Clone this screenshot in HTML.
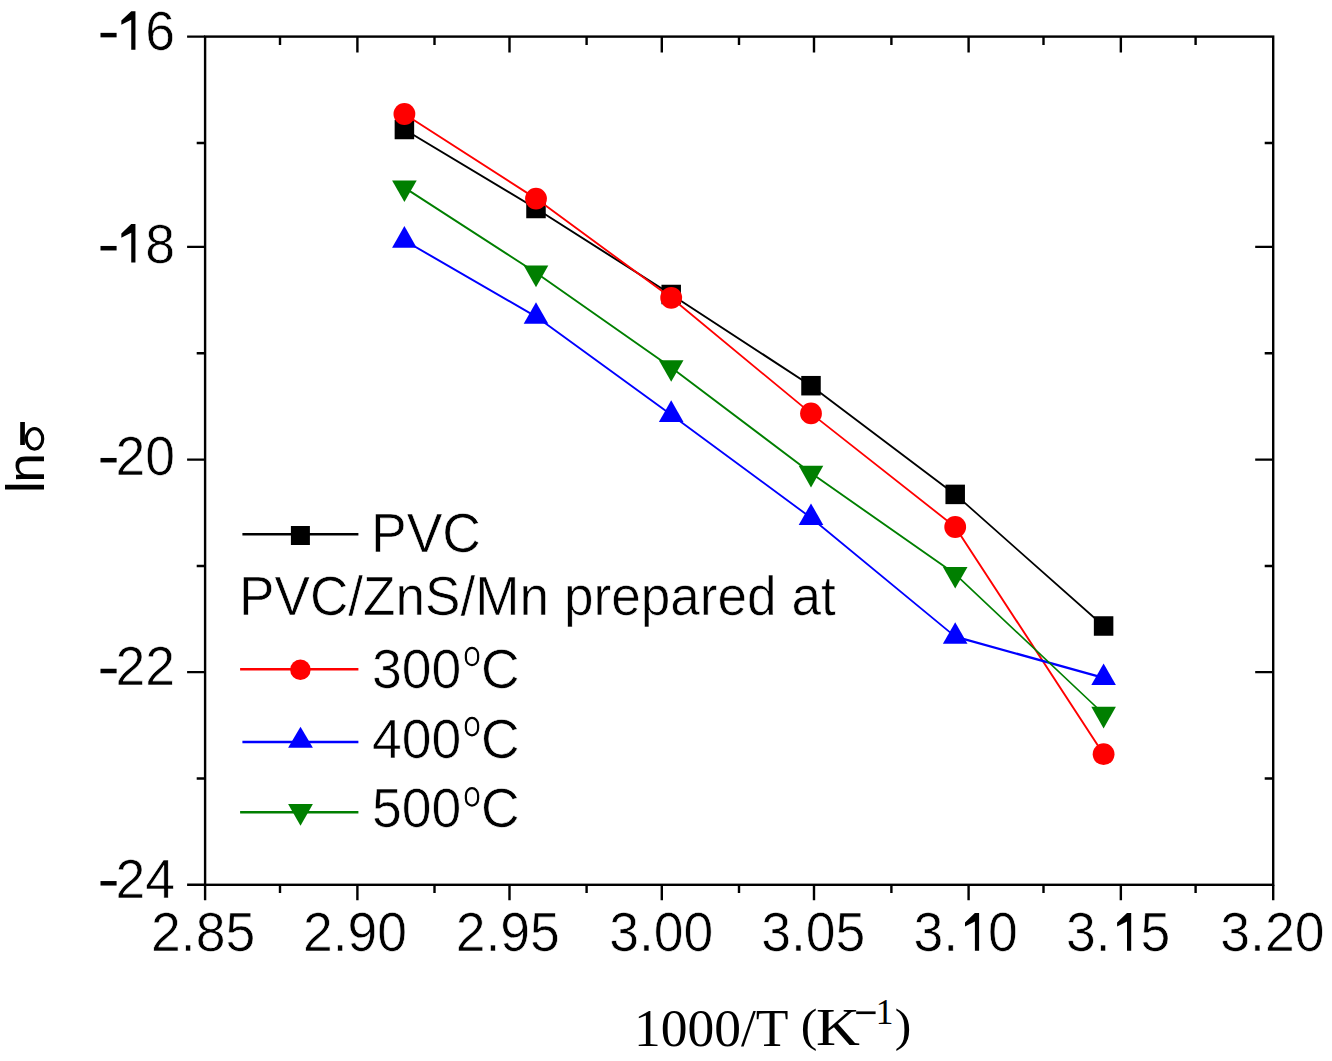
<!DOCTYPE html>
<html><head><meta charset="utf-8"><style>
html,body{margin:0;padding:0;background:#fff;width:1332px;height:1061px;overflow:hidden}
svg{display:block}

</style></head><body><svg width="1332" height="1061" viewBox="0 0 1332 1061"><rect x="205.1" y="36.6" width="1068.1000000000001" height="848.1999999999999" fill="none" stroke="#000" stroke-width="2.4"/><path d="M205.10 884.8V900.3M357.40 884.8V900.3M357.40 36.6V52.6M509.50 884.8V900.3M509.50 36.6V52.6M661.80 884.8V900.3M661.80 36.6V52.6M814.00 884.8V900.3M814.00 36.6V52.6M968.60 884.8V900.3M968.60 36.6V52.6M1120.85 884.8V900.3M1120.85 36.6V52.6M1273.20 884.8V900.3M280.00 884.8V893.0M280.00 36.6V45.1M434.50 884.8V893.0M434.50 36.6V45.1M586.60 884.8V893.0M586.60 36.6V45.1M739.00 884.8V893.0M739.00 36.6V45.1M891.40 884.8V893.0M891.40 36.6V45.1M1043.50 884.8V893.0M1043.50 36.6V45.1M1195.60 884.8V893.0M1195.60 36.6V45.1M187.1 884.80H205.1M187.1 672.10H205.1M1273.2 672.10H1255.2M187.1 459.60H205.1M1273.2 459.60H1255.2M187.1 246.90H205.1M1273.2 246.90H1255.2M187.1 36.60H205.1M196.7 142.96H205.1M1273.2 142.96H1264.7M196.7 353.20H205.1M1273.2 353.20H1264.7M196.7 566.00H205.1M1273.2 566.00H1264.7M196.7 778.50H205.1M1273.2 778.50H1264.7" stroke="#000" stroke-width="2.4" fill="none"/><g font-family="Liberation Sans, sans-serif" font-size="53.5" fill="#000"><text transform="translate(203.15 951.00) scale(1 1.04)" text-anchor="middle" stroke="#fff" stroke-width="0.6">2.85</text><text transform="translate(354.95 951.00) scale(1 1.04)" text-anchor="middle" stroke="#fff" stroke-width="0.6">2.90</text><text transform="translate(507.80 951.00) scale(1 1.04)" text-anchor="middle" stroke="#fff" stroke-width="0.6">2.95</text><text transform="translate(661.20 951.00) scale(1 1.04)" text-anchor="middle" stroke="#fff" stroke-width="0.6">3.00</text><text transform="translate(813.20 951.00) scale(1 1.04)" text-anchor="middle" stroke="#fff" stroke-width="0.6">3.05</text><text transform="translate(965.65 951.00) scale(1 1.04)" text-anchor="middle" stroke="#fff" stroke-width="0.6">3.<tspan visibility="hidden">1</tspan>0</text><text transform="translate(1118.10 951.00) scale(1 1.04)" text-anchor="middle" stroke="#fff" stroke-width="0.6">3.<tspan visibility="hidden">1</tspan>5</text><text transform="translate(1272.40 951.00) scale(1 1.04)" text-anchor="middle" stroke="#fff" stroke-width="0.6">3.20</text><path d="M974.90 913.00H979.10V950.80H974.90V921.60L965.00 926.60V922.40Z"/><path d="M1127.00 913.00H1131.20V950.80H1127.00V921.60L1117.10 926.60V922.40Z"/><path d="M131.25 11.20H135.45V49.80H131.25V19.80L121.35 24.80V20.60Z"/><path d="M131.25 224.10H135.45V262.50H131.25V232.70L121.35 237.70V233.50Z"/><text transform="translate(175.00 897.70) scale(1 1.04)" text-anchor="end" stroke="#fff" stroke-width="0.6"><tspan visibility="hidden">-</tspan>24</text><rect x="100.5" y="881.05" width="16.1" height="4.5"/><text transform="translate(175.00 685.40) scale(1 1.04)" text-anchor="end" stroke="#fff" stroke-width="0.6"><tspan visibility="hidden">-</tspan>22</text><rect x="100.5" y="668.75" width="16.1" height="4.5"/><text transform="translate(175.00 474.60) scale(1 1.04)" text-anchor="end" stroke="#fff" stroke-width="0.6"><tspan visibility="hidden">-</tspan>20</text><rect x="100.5" y="457.95" width="16.1" height="4.5"/><text transform="translate(175.00 262.60) scale(1 1.04)" text-anchor="end" stroke="#fff" stroke-width="0.6"><tspan visibility="hidden">-</tspan><tspan visibility="hidden">1</tspan>8</text><rect x="100.5" y="245.95" width="16.1" height="4.5"/><text transform="translate(175.00 49.50) scale(1 1.04)" text-anchor="end" stroke="#fff" stroke-width="0.6"><tspan visibility="hidden">-</tspan><tspan visibility="hidden">1</tspan>6</text><rect x="100.5" y="32.85" width="16.1" height="4.5"/></g><g stroke="#000" fill="none" stroke-linecap="round"><path d="M404.40 129.50L536.00 208.50" stroke-width="1.97"/><path d="M536.00 208.50L671.20 294.50" stroke-width="1.94"/><path d="M671.20 294.50L811.00 385.70" stroke-width="1.93"/><path d="M811.00 385.70L955.20 494.40" stroke-width="1.84"/><path d="M955.20 494.40L1103.60 626.00" stroke-width="1.72"/></g><rect x="394.65" y="119.75" width="19.5" height="19.5" fill="#000"/><rect x="526.25" y="198.75" width="19.5" height="19.5" fill="#000"/><rect x="661.45" y="284.75" width="19.5" height="19.5" fill="#000"/><rect x="801.25" y="375.95" width="19.5" height="19.5" fill="#000"/><rect x="945.45" y="484.65" width="19.5" height="19.5" fill="#000"/><rect x="1093.85" y="616.25" width="19.5" height="19.5" fill="#000"/><g stroke="#f00" fill="none" stroke-linecap="round"><path d="M404.40 114.00L536.00 198.60" stroke-width="1.93"/><path d="M536.00 198.60L671.20 297.80" stroke-width="1.85"/><path d="M671.20 297.80L811.00 413.40" stroke-width="1.77"/><path d="M811.00 413.40L955.20 527.00" stroke-width="1.81"/><path d="M955.20 527.00L1103.60 754.20" stroke-width="1.93"/></g><circle cx="404.40" cy="114.00" r="10.9" fill="#f00"/><circle cx="536.00" cy="198.60" r="10.9" fill="#f00"/><circle cx="671.20" cy="297.80" r="10.9" fill="#f00"/><circle cx="811.00" cy="413.40" r="10.9" fill="#f00"/><circle cx="955.20" cy="527.00" r="10.9" fill="#f00"/><circle cx="1103.60" cy="754.20" r="10.9" fill="#f00"/><g stroke="#00f" fill="none" stroke-linecap="round"><path d="M404.40 240.50L536.00 316.60" stroke-width="1.99"/><path d="M536.00 316.60L671.20 414.70" stroke-width="1.86"/><path d="M671.20 414.70L811.00 517.80" stroke-width="1.85"/><path d="M811.00 517.80L955.20 636.60" stroke-width="1.78"/><path d="M955.20 636.60L1103.60 677.90" stroke-width="2.22"/></g><polygon points="404.40,226.10 416.70,247.70 392.10,247.70" fill="#00f"/><polygon points="536.00,302.20 548.30,323.80 523.70,323.80" fill="#00f"/><polygon points="671.20,400.30 683.50,421.90 658.90,421.90" fill="#00f"/><polygon points="811.00,503.40 823.30,525.00 798.70,525.00" fill="#00f"/><polygon points="955.20,622.20 967.50,643.80 942.90,643.80" fill="#00f"/><polygon points="1103.60,663.50 1115.90,685.10 1091.30,685.10" fill="#00f"/><g stroke="#007f00" fill="none" stroke-linecap="round"><path d="M404.40 187.60L536.00 272.80" stroke-width="1.93"/><path d="M536.00 272.80L671.20 367.40" stroke-width="1.88"/><path d="M671.20 367.40L811.00 473.00" stroke-width="1.84"/><path d="M811.00 473.00L955.20 574.10" stroke-width="1.88"/><path d="M955.20 574.10L1103.60 714.00" stroke-width="1.67"/></g><polygon points="392.10,180.40 416.70,180.40 404.40,202.00" fill="#007f00"/><polygon points="523.70,265.60 548.30,265.60 536.00,287.20" fill="#007f00"/><polygon points="658.90,360.20 683.50,360.20 671.20,381.80" fill="#007f00"/><polygon points="798.70,465.80 823.30,465.80 811.00,487.40" fill="#007f00"/><polygon points="942.90,566.90 967.50,566.90 955.20,588.50" fill="#007f00"/><polygon points="1091.30,706.80 1115.90,706.80 1103.60,728.40" fill="#007f00"/><path d="M242.4 534.2H358.4" stroke="#000" stroke-width="2.4"/><rect x="290.90" y="526.00" width="19" height="19" fill="#000"/><path d="M240.1 669.3H358.4" stroke="#f00" stroke-width="2.4"/><circle cx="300.40" cy="669.80" r="10.25" fill="#f00"/><path d="M242.4 742H358.4" stroke="#00f" stroke-width="2.4"/><polygon points="300.50,726.70 312.90,747.70 288.10,747.70" fill="#00f"/><path d="M240.1 812.3H358.4" stroke="#007f00" stroke-width="2.4"/><polygon points="288.10,804.03 312.90,804.03 300.50,825.83" fill="#007f00"/><g font-family="Liberation Sans, sans-serif" font-size="53.5" fill="#000"><text transform="translate(371.00 552.30) scale(1 1.04)" stroke="#fff" stroke-width="0.6">PVC</text><text transform="translate(239.00 615.30) scale(0.9935 1.04)" stroke="#fff" stroke-width="0.6">PVC/ZnS/Mn prepared at</text><text transform="translate(372.00 687.70) scale(1 1.04)" stroke="#fff" stroke-width="0.6">300<tspan font-size="30" dx="1.5" dy="-22.6" visibility="hidden">o</tspan><tspan dx="1.5" dy="22.6">C</tspan></text><text transform="translate(372.00 757.60) scale(1 1.04)" stroke="#fff" stroke-width="0.6">400<tspan font-size="30" dx="1.5" dy="-22.6" visibility="hidden">o</tspan><tspan dx="1.5" dy="22.6">C</tspan></text><text transform="translate(372.00 827.00) scale(1 1.04)" stroke="#fff" stroke-width="0.6">500<tspan font-size="30" dx="1.5" dy="-22.6" visibility="hidden">o</tspan><tspan dx="1.5" dy="22.6">C</tspan></text></g><rect x="465.9" y="647.8" width="12.2" height="17.4" rx="6.1" ry="7" fill="none" stroke="#000" stroke-width="2.2"/><rect x="465.9" y="717.9" width="12.2" height="17.4" rx="6.1" ry="7" fill="none" stroke="#000" stroke-width="2.2"/><rect x="465.9" y="788.2" width="12.2" height="17.4" rx="6.1" ry="7" fill="none" stroke="#000" stroke-width="2.2"/><text transform="translate(44.1 493) rotate(-90)" font-family="Liberation Sans, sans-serif" font-size="53.5">l<tspan dx="-1.7">n</tspan></text><rect x="20.2" y="422" width="4.7" height="23" fill="#000"/><ellipse cx="34.5" cy="438.9" rx="8.2" ry="10.2" fill="none" stroke="#000" stroke-width="3.2"/><g font-family="Liberation Serif, serif" font-size="53.5" fill="#000"><text x="634" y="1045.7">1000/T</text><text transform="translate(800.87 1041.3) scale(0.93 0.875)">(</text><text transform="translate(816.1 1044.6) scale(1.137 1)">K</text><rect x="856.2" y="1011.4" width="19.4" height="2.7"/><text x="875.7" y="1023.6" font-size="35.4">1</text><text transform="translate(894.8 1041.3) scale(0.93 0.875)">)</text></g></svg></body></html>
